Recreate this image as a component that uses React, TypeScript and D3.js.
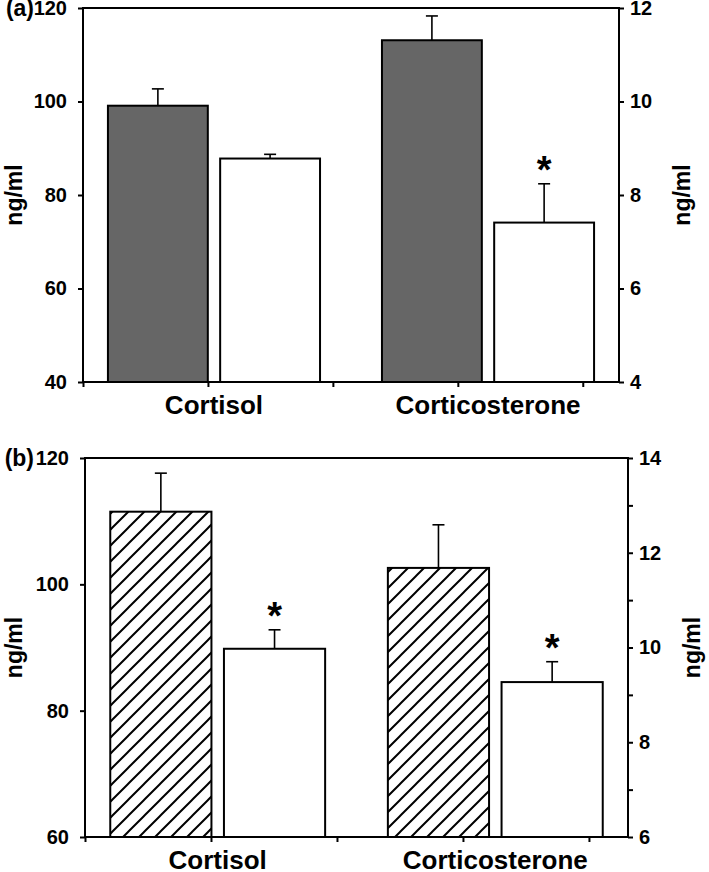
import React, { useEffect, useRef } from 'react';
import * as d3 from 'd3';

// categories and bar groups
const categories = ['Cortisol', 'Corticosterone'];
const groups = ['control', 'treated'];

// panel (a) - cortisol on left axis, corticosterone on right axis
const aControl = [99.1, 11.31];
const aControlErr = [3.6, 0.52];
const aTreated = [87.8, 7.41];
const aTreatedErr = [0.9, 0.83];
const aStar = [false, true];
const aLeftTicks = [40, 60, 80, 100, 120];
const aRightTicks = [4, 6, 8, 10, 12];

// panel (b)
const bControl = [111.5, 11.68];
const bControlErr = [6.1, 0.91];
const bTreated = [89.8, 9.27];
const bTreatedErr = [3.0, 0.43];
const bStar = [true, true];
const bLeftTicks = [60, 80, 100, 120];
const bRightTicks = [6, 8, 10, 12, 14];
const bRightMinor = [7, 9, 11, 13];

const FONT = '"Liberation Sans", Arial, sans-serif';

type Panel = {
  letter: string;
  left: number; right: number; top: number; bottom: number;
  slots: number;
  leftTicks: number[]; rightTicks: number[]; rightMinor: number[];
  control: number[]; controlErr: number[];
  treated: number[]; treatedErr: number[];
  star: boolean[];
  controlFill: string;
  labelY: number;
  rightLabelX: number;
};

const panels: Panel[] = [
  {
    letter: '(a)', left: 83, right: 619, top: 8, bottom: 382, slots: 4.29,
    leftTicks: aLeftTicks, rightTicks: aRightTicks, rightMinor: [],
    control: aControl, controlErr: aControlErr, treated: aTreated, treatedErr: aTreatedErr,
    star: aStar, controlFill: '#666666', labelY: 414, rightLabelX: 682,
  },
  {
    letter: '(b)', left: 85, right: 628, top: 458, bottom: 837, slots: 4.31,
    leftTicks: bLeftTicks, rightTicks: bRightTicks, rightMinor: bRightMinor,
    control: bControl, controlErr: bControlErr, treated: bTreated, treatedErr: bTreatedErr,
    star: bStar, controlFill: 'url(#hatch)', labelY: 869, rightLabelX: 692,
  },
];

function drawPanel(svg: d3.Selection<SVGSVGElement, unknown, null, undefined>, p: Panel) {
  const g = svg.append('g');
  const yL = d3.scaleLinear().domain(d3.extent(p.leftTicks) as [number, number]).range([p.bottom, p.top]);
  const yR = d3.scaleLinear().domain(d3.extent(p.rightTicks) as [number, number]).range([p.bottom, p.top]);
  const x0 = d3.scaleBand().domain(categories).range([p.left, p.right]).paddingInner(0.226).paddingOuter(0.091);
  const x1 = d3.scaleBand().domain(groups).range([0, x0.bandwidth()]).paddingInner(0.11);
  const xt = d3.scaleLinear().domain([0, p.slots]).range([p.left, p.right]);

  const rows = categories.flatMap((c, i) => groups.map((gr, j) => ({
    cat: c, group: gr,
    y: i === 0 ? yL : yR,
    v: j === 0 ? p.control[i] : p.treated[i],
    e: j === 0 ? p.controlErr[i] : p.treatedErr[i],
    star: j === 1 && p.star[i],
    fill: j === 0 ? p.controlFill : '#ffffff',
  })));

  // bars
  g.append('g').selectAll('rect').data(rows).join('rect')
    .attr('x', d => x0(d.cat)! + x1(d.group)!)
    .attr('y', d => d.y(d.v))
    .attr('width', x1.bandwidth())
    .attr('height', d => p.bottom - d.y(d.v))
    .attr('fill', d => d.fill)
    .attr('stroke', '#000')
    .attr('stroke-width', 2);

  // error bars (upper only)
  const eb = g.append('g').selectAll('g').data(rows).join('g')
    .attr('stroke', '#000').attr('stroke-width', 1.6);
  eb.append('line')
    .attr('x1', d => x0(d.cat)! + x1(d.group)! + x1.bandwidth() / 2)
    .attr('x2', d => x0(d.cat)! + x1(d.group)! + x1.bandwidth() / 2)
    .attr('y1', d => d.y(d.v))
    .attr('y2', d => d.y(d.v + d.e));
  eb.append('line')
    .attr('x1', d => x0(d.cat)! + x1(d.group)! + x1.bandwidth() / 2 - 6)
    .attr('x2', d => x0(d.cat)! + x1(d.group)! + x1.bandwidth() / 2 + 6)
    .attr('y1', d => d.y(d.v + d.e))
    .attr('y2', d => d.y(d.v + d.e));

  // significance stars
  g.append('g').selectAll('text').data(rows.filter(d => d.star)).join('text')
    .attr('x', d => x0(d.cat)! + x1(d.group)! + x1.bandwidth() / 2)
    .attr('y', d => d.y(d.v + d.e) - 1)
    .attr('text-anchor', 'middle')
    .attr('font-family', FONT).attr('font-weight', 'bold').attr('font-size', 38)
    .text('*');

  // frame
  g.append('rect')
    .attr('x', p.left).attr('y', p.top)
    .attr('width', p.right - p.left).attr('height', p.bottom - p.top)
    .attr('fill', 'none').attr('stroke', '#000').attr('stroke-width', 2);

  const styleAxis = (a: d3.Selection<SVGGElement, unknown, null, undefined>) => {
    a.select('.domain').remove();
    a.selectAll('line').attr('stroke', '#000').attr('stroke-width', 2);
    a.selectAll('text').attr('font-family', FONT).attr('font-weight', 'bold').attr('font-size', 20).attr('fill', '#000');
  };

  const la = g.append('g').attr('transform', `translate(${p.left},0)`)
    .call(d3.axisLeft(yL).tickValues(p.leftTicks).tickSize(5).tickSizeOuter(0).tickPadding(11));
  styleAxis(la);
  const ra = g.append('g').attr('transform', `translate(${p.right},0)`)
    .call(d3.axisRight(yR).tickValues(p.rightTicks).tickSize(5).tickSizeOuter(0).tickPadding(6));
  styleAxis(ra);
  if (p.rightMinor.length) {
    const rm = g.append('g').attr('transform', `translate(${p.right},0)`)
      .call(d3.axisRight(yR).tickValues(p.rightMinor).tickSize(5).tickSizeOuter(0).tickFormat(() => ''));
    styleAxis(rm);
  }
  const ba = g.append('g').attr('transform', `translate(0,${p.bottom})`)
    .call(d3.axisBottom(xt).tickValues([0, 1, 2, 3, 4]).tickSize(5).tickSizeOuter(0).tickFormat(() => ''));
  styleAxis(ba);

  // category labels
  g.append('g').selectAll('text').data(categories).join('text')
    .attr('x', d => x0(d)! + x0.bandwidth() / 2)
    .attr('y', p.labelY)
    .attr('text-anchor', 'middle')
    .attr('font-family', FONT).attr('font-weight', 'bold').attr('font-size', 26)
    .text(d => d);

  // panel letter
  g.append('text')
    .attr('x', 34).attr('y', p.top + 8)
    .attr('text-anchor', 'end')
    .attr('font-family', FONT).attr('font-weight', 'bold').attr('font-size', 23)
    .text(p.letter);

  // unit labels
  const midY = (p.top + p.bottom) / 2;
  [14, p.rightLabelX].forEach(x => {
    g.append('text')
      .attr('transform', `translate(${x},${midY}) rotate(-90)`)
      .attr('text-anchor', 'middle')
      .attr('dominant-baseline', 'central')
      .attr('font-family', FONT).attr('font-weight', 'bold').attr('font-size', 23)
      .text('ng/ml');
  });
}

export default function App() {
  const ref = useRef<SVGSVGElement | null>(null);

  useEffect(() => {
    if (!ref.current) return;
    const svg = d3.select(ref.current);
    svg.selectAll('*').remove();

    const defs = svg.append('defs');
    const pat = defs.append('pattern')
      .attr('id', 'hatch')
      .attr('patternUnits', 'userSpaceOnUse')
      .attr('width', 16).attr('height', 16);
    pat.append('rect').attr('width', 16).attr('height', 16).attr('fill', '#fff');
    pat.append('path')
      .attr('d', 'M-4,4 L4,-4 M0,16 L16,0 M12,20 L20,12')
      .attr('stroke', '#000').attr('stroke-width', 2);

    panels.forEach(p => drawPanel(svg, p));
  }, []);

  return (
    <svg
      ref={ref}
      width={709}
      height={872}
      style={{ position: 'absolute', left: 0, top: 0, background: '#fff' }}
    />
  );
}
